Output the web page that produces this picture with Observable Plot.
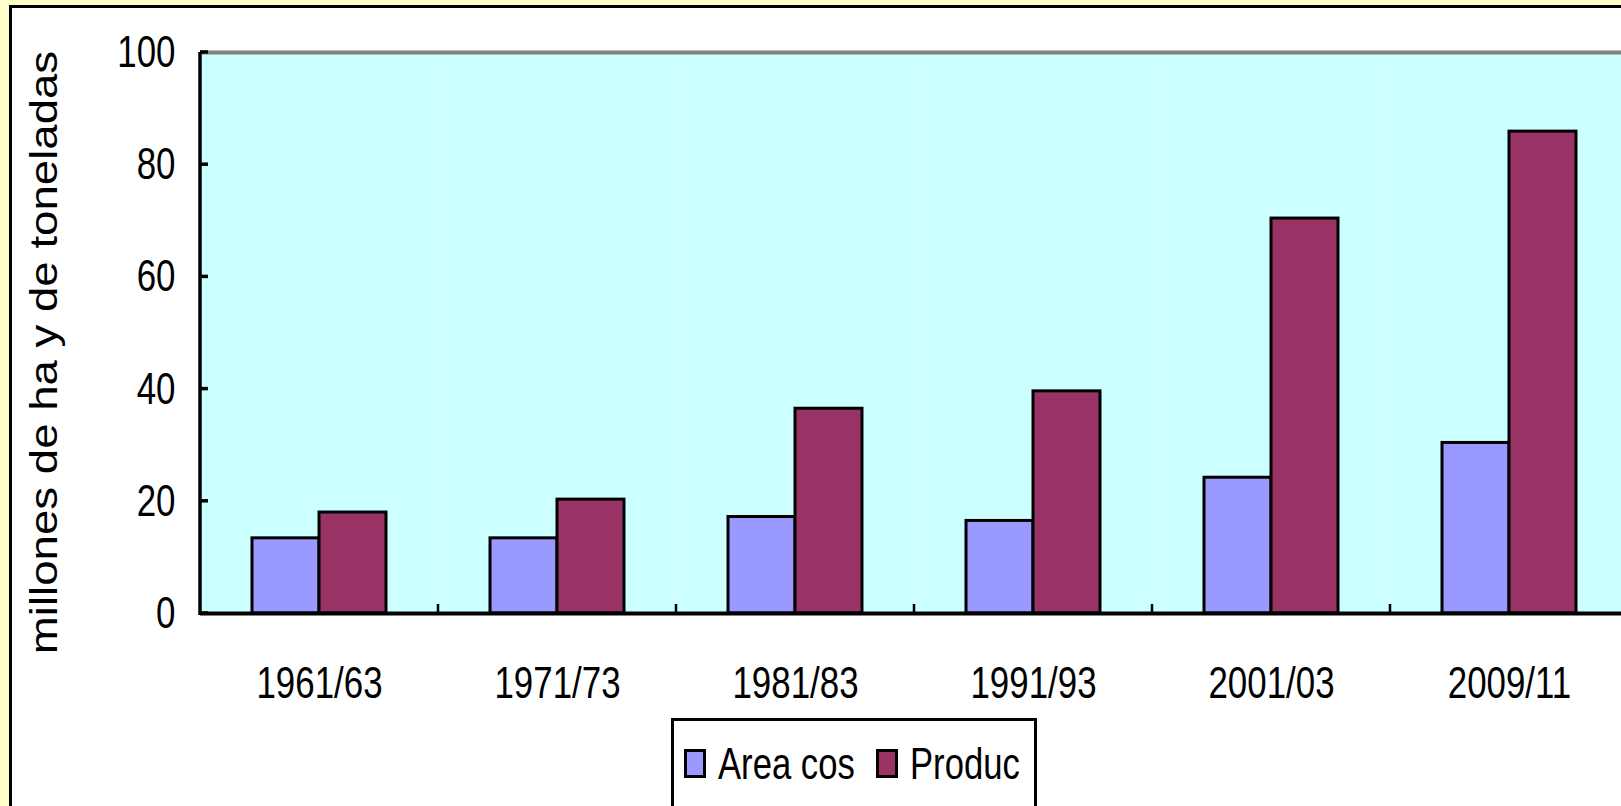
<!DOCTYPE html>
<html>
<head>
<meta charset="utf-8">
<script src="https://cdn.jsdelivr.net/npm/d3@7"></script>
<script src="https://cdn.jsdelivr.net/npm/@observablehq/plot@0.6"></script>
<style>
  html, body { margin: 0; padding: 0; }
  body { width: 1621px; height: 806px; overflow: hidden; background: #FFFFCC; position: relative; }
  #panel { position: absolute; left: 9px; top: 5px; width: 1660px; height: 840px; background: #fff;
           border: 3px solid #000; box-sizing: border-box; }
  #chart { position: absolute; left: 0; top: 0; width: 1640px; height: 806px; }
  #chart svg { max-width: none !important; }
  #legend { position: absolute; left: 671px; top: 718px; width: 366px; height: 120px; background: #fff;
            border: 3px solid #000; box-sizing: border-box; padding: 20px 0 0 10px;
            display: flex; align-items: flex-start; white-space: nowrap; }
  .item { display: flex; align-items: center; height: 44px; margin-right: 21px; flex: none; }
  .sw { display: inline-block; width: 16px; height: 23px; border: 3px solid #000; margin-right: 12px; flex: none; }
  .lab { display: inline-block; font-family: "Liberation Sans", Arial, sans-serif;
         font-size: 45px; line-height: 1; color: #000; transform-origin: 0 50%; }
</style>
</head>
<body>
<div id="panel"></div>
<div id="chart"></div>
<div id="legend"></div>
<script>
const categories = ["1961/63", "1971/73", "1981/83", "1991/93", "2001/03", "2009/11"];
const series = ["Area cos", "Produc"];
const areaValues = [13.4, 13.4, 17.2, 16.5, 24.2, 30.4];
const producValues = [18.0, 20.3, 36.5, 39.6, 70.4, 85.9];
const yTicks = [0, 20, 40, 60, 80, 100];
const colors = ["#9999FF", "#993366"];
const yLabel = "millones de ha y de toneladas";

const data = [];
categories.forEach((c, i) => {
  data.push({cat: c, series: series[0], value: areaValues[i]});
  data.push({cat: c, series: series[1], value: producValues[i]});
});

const sans = '"Liberation Sans", Arial, sans-serif';
const squeeze = 0.775;     // horizontal compression of the condensed tick labels
const legendSqueeze = 0.77;

const chart = Plot.plot({
  width: 1640,
  height: 806,
  marginLeft: 198,
  marginRight: 11,
  marginTop: 52,
  marginBottom: 193,
  style: {fontFamily: sans, fontSize: "45px", color: "#000", background: "transparent", overflow: "visible", maxWidth: "none"},
  fx: {domain: categories, padding: 0, axis: "bottom", tickSize: 0, tickPadding: 53, label: null},
  x: {domain: series, paddingInner: 0, paddingOuter: 0.754, axis: null},
  y: {domain: [0, 100], ticks: yTicks, tickSize: 0, tickPadding: 25, label: null},
  color: {domain: series, range: colors},
  marks: [
    Plot.frame({fill: "#CCFFFF", stroke: "none"}),
    Plot.ruleY([100], {stroke: "#808080", strokeWidth: 4}),
    Plot.barY(data, {fx: "cat", x: "series", y: "value", fill: "series", stroke: "#000", strokeWidth: 3}),
    Plot.ruleY([0], {stroke: "#000", strokeWidth: 4})
  ]
});
chart.style.maxWidth = "none";
document.getElementById("chart").appendChild(chart);

const svg = d3.select(chart);
// compress axis tick labels horizontally, keeping their anchor point
svg.selectAll("text").each(function () {
  const xa = this.getAttribute("x");
  const x = xa == null ? 0 : +xa;
  if (!isFinite(x)) return;
  const t = this.getAttribute("transform") || "";
  this.removeAttribute("x");
  this.setAttribute("transform", `${t} translate(${x},0) scale(${squeeze},1)`);
});

// decorations using the plot's own scales
const fx = chart.scale("fx");
const ys = chart.scale("y");
const g = svg.append("g").attr("stroke", "#000");
const x0 = fx.apply(categories[0]);
g.append("line").attr("x1", x0).attr("x2", x0).attr("y1", ys.apply(100)).attr("y2", ys.apply(0) + 2).attr("stroke-width", 3.5);
yTicks.forEach(t => {
  g.append("line").attr("x1", x0).attr("x2", x0 + 8).attr("y1", ys.apply(t)).attr("y2", ys.apply(t)).attr("stroke-width", 3.5);
});
categories.forEach((c) => {
  const xb = fx.apply(c) + fx.bandwidth;
  g.append("line").attr("x1", xb).attr("x2", xb).attr("y1", ys.apply(0)).attr("y2", ys.apply(0) - 9).attr("stroke-width", 2.5);
});
svg.append("text")
  .attr("transform", `translate(57,${(ys.apply(0) + ys.apply(100)) / 2 + 20}) rotate(-90) scale(1.2,1)`)
  .attr("text-anchor", "middle")
  .style("font-family", sans)
  .style("font-size", "38px")
  .attr("fill", "#000")
  .text(yLabel);

// legend
const legend = d3.select("#legend");
series.forEach((s, i) => {
  const it = legend.append("div").attr("class", "item");
  it.append("span").attr("class", "sw").style("background", colors[i]);
  const lab = it.append("span").attr("class", "lab").text(s).node();
  const w = lab.offsetWidth;
  lab.style.transform = `scaleX(${legendSqueeze})`;
  lab.style.marginRight = `${-w * (1 - legendSqueeze)}px`;
});
</script>
</body>
</html>
